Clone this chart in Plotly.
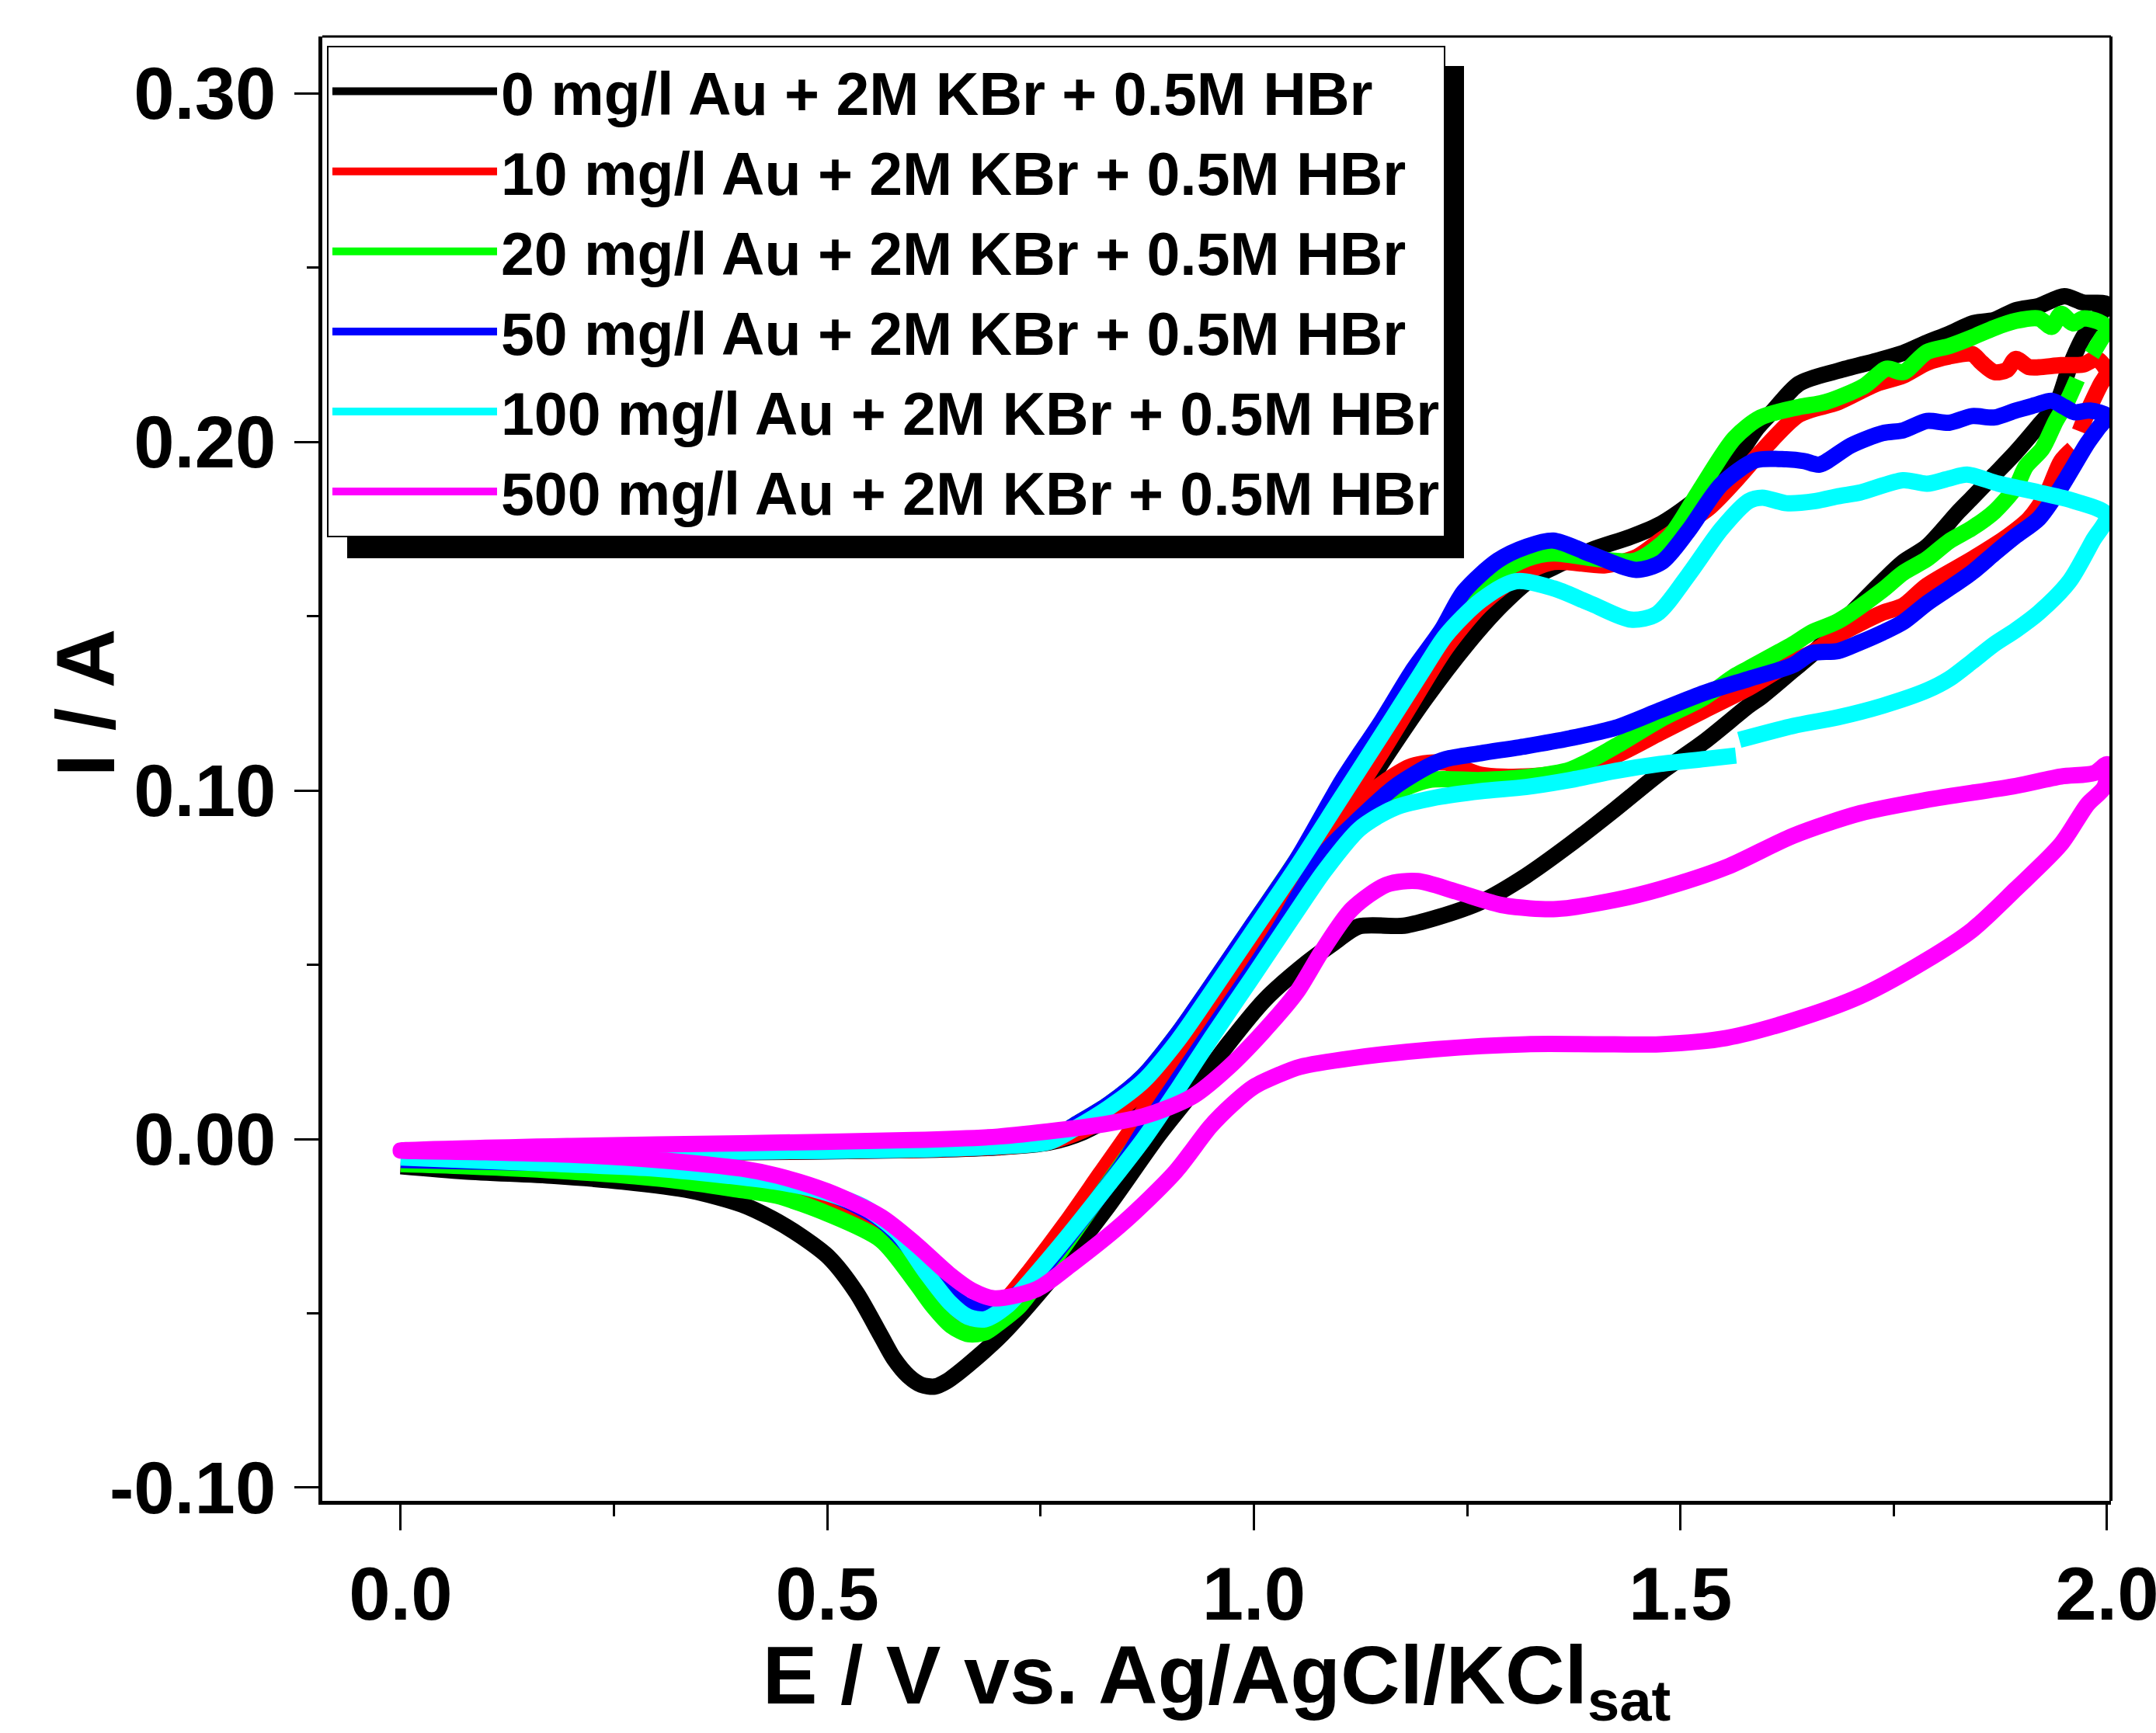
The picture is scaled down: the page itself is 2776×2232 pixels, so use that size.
import plotly.graph_objects as go

# ---------------- data ----------------
labels = [
    "0 mg/l Au + 2M KBr + 0.5M HBr",
    "10 mg/l Au + 2M KBr + 0.5M HBr",
    "20 mg/l Au + 2M KBr + 0.5M HBr",
    "50 mg/l Au + 2M KBr + 0.5M HBr",
    "100 mg/l Au + 2M KBr + 0.5M HBr",
    "500 mg/l Au + 2M KBr + 0.5M HBr",
]
colors = ["#000000", "#FF0000", "#00FF00", "#0000FF", "#00FFFF", "#FF00FF"]

x_ticks = [0.0, 0.5, 1.0, 1.5, 2.0]
y_ticks = [-0.10, 0.00, 0.10, 0.20, 0.30]

# (E / V, I / A) pairs, forward sweep then reverse sweep; (None, None) = gap in record
black_pts = [
    (0.00, -0.0045), (0.20, -0.0042), (0.40, -0.0038), (0.60, -0.0032), (0.70, -0.0024),
    (0.76, -0.0010), (0.80, 0.0020), (0.84, 0.0075), (0.88, 0.0150), (0.92, 0.0250),
    (0.96, 0.0370), (1.00, 0.0520), (1.05, 0.0700), (1.10, 0.0890), (1.15, 0.1080),
    (1.20, 0.1260), (1.25, 0.1420), (1.29, 0.1530), (1.327, 0.1610), (1.351, 0.1640),
    (1.396, 0.1690), (1.442, 0.1728), (1.478, 0.1766), (1.509, 0.1817), (1.535, 0.1870),
    (1.563, 0.1944), (1.590, 0.2040), (1.609, 0.2090), (1.639, 0.2167), (1.685, 0.2204),
    (1.730, 0.2233), (1.761, 0.2255), (1.789, 0.2285), (1.815, 0.2310), (1.842, 0.2340),
    (1.868, 0.2350), (1.893, 0.2378), (1.920, 0.2390), (1.950, 0.2418), (1.972, 0.2400),
    (2.000, 0.2395),
    (1.988, 0.2354), (1.972, 0.2300), (1.956, 0.2214), (1.941, 0.2110), (1.920, 0.2047),
    (1.893, 0.1970), (1.868, 0.1906), (1.842, 0.1840), (1.826, 0.1800), (1.789, 0.1700),
    (1.761, 0.1655), (1.737, 0.1600), (1.685, 0.1470), (1.654, 0.1390), (1.632, 0.1345),
    (1.594, 0.1267), (1.580, 0.1243), (1.528, 0.1140), (1.476, 0.1050), (1.424, 0.0947),
    (1.371, 0.0846), (1.319, 0.0755), (1.266, 0.0680), (1.214, 0.0635), (1.176, 0.0612),
    (1.123, 0.0610), (1.095, 0.0565), (1.054, 0.0490), (1.013, 0.0400), (0.969, 0.0270),
    (0.930, 0.0140), (0.888, 0.0010), (0.827, -0.0200), (0.766, -0.0390), (0.705, -0.0560),
    (0.664, -0.0650), (0.640, -0.0695), (0.626, -0.0710), (0.610, -0.0705), (0.595, -0.0680),
    (0.578, -0.0630), (0.563, -0.0565), (0.534, -0.0440), (0.502, -0.0340), (0.470, -0.0280),
    (0.435, -0.0228), (0.400, -0.0188), (0.340, -0.0148), (0.260, -0.0122), (0.180, -0.0106),
    (0.075, -0.0093), (0.000, -0.0078),
]

red_pts = [
    (0.00, -0.0042), (0.20, -0.0040), (0.40, -0.0037), (0.60, -0.0031), (0.70, -0.0023),
    (0.76, -0.0008), (0.80, 0.0025), (0.84, 0.0080), (0.88, 0.0160), (0.92, 0.0270),
    (0.96, 0.0400), (1.00, 0.0550), (1.05, 0.0730), (1.10, 0.0920), (1.15, 0.1110),
    (1.185, 0.1250), (1.225, 0.1408), (1.266, 0.1530), (1.307, 0.1610), (1.351, 0.1655),
    (1.412, 0.1646), (1.449, 0.1670), (1.478, 0.1720), (1.533, 0.1810), (1.565, 0.1890),
    (1.594, 0.1970), (1.639, 0.2078), (1.685, 0.2114), (1.730, 0.2167), (1.761, 0.2190),
    (1.789, 0.2227), (1.815, 0.2245), (1.842, 0.2252), (1.853, 0.2227), (1.868, 0.2200),
    (1.883, 0.2207), (1.893, 0.2238), (1.908, 0.2215), (1.920, 0.2214), (1.946, 0.2220),
    (1.972, 0.2222), (1.988, 0.2238), (2.000, 0.2200),
    (1.992, 0.2163), (1.977, 0.2085), (1.968, 0.2030), (None, None), (1.960, 0.1980),
    (1.946, 0.1944), (1.930, 0.1855), (1.909, 0.1780), (1.883, 0.1728), (1.842, 0.1664),
    (1.789, 0.1588), (1.761, 0.1530), (1.737, 0.1510), (1.685, 0.1446), (1.654, 0.1395),
    (1.632, 0.1370), (1.580, 0.1294), (1.528, 0.1230), (1.476, 0.1165), (1.424, 0.1100),
    (1.371, 0.1056), (1.319, 0.1040), (1.266, 0.1045), (1.225, 0.1080), (1.185, 0.1070),
    (1.145, 0.1010), (1.112, 0.0940), (1.080, 0.0840), (1.050, 0.0730), (1.000, 0.0550),
    (0.950, 0.0370), (0.900, 0.0190), (0.860, 0.0040), (0.820, -0.0100), (0.780, -0.0240),
    (0.740, -0.0370), (0.710, -0.0460), (0.685, -0.0510), (0.665, -0.0520), (0.645, -0.0500),
    (0.625, -0.0440), (0.603, -0.0370), (0.563, -0.0260), (0.520, -0.0200), (0.500, -0.0185),
    (0.441, -0.0150), (0.400, -0.0130), (0.300, -0.0100), (0.150, -0.0080), (0.000, -0.0068),
]

green_pts = [
    (0.00, -0.0040), (0.20, -0.0038), (0.40, -0.0036), (0.60, -0.0030), (0.70, -0.0021),
    (0.76, -0.0004), (0.79, 0.0040), (0.83, 0.0100), (0.87, 0.0180), (0.91, 0.0300),
    (0.95, 0.0440), (1.00, 0.0620), (1.05, 0.0800), (1.10, 0.0990), (1.15, 0.1180),
    (1.20, 0.1360), (1.246, 0.1530), (1.286, 0.1620), (1.320, 0.1665), (1.351, 0.1680),
    (1.400, 0.1665), (1.448, 0.1660), (1.487, 0.1728), (1.521, 0.1855), (1.563, 0.2010),
    (1.594, 0.2070), (1.639, 0.2100), (1.670, 0.2114), (1.715, 0.2160), (1.742, 0.2210),
    (1.761, 0.2200), (1.789, 0.2258), (1.815, 0.2275), (1.842, 0.2300), (1.868, 0.2327),
    (1.893, 0.2347), (1.920, 0.2354), (1.935, 0.2330), (1.946, 0.2367), (1.960, 0.2340),
    (1.972, 0.2354), (1.990, 0.2345), (2.000, 0.2327),
    (1.992, 0.2290), (1.982, 0.2250), (None, None), (1.965, 0.2180), (1.952, 0.2110),
    (1.940, 0.2060), (1.924, 0.1980), (1.905, 0.1930), (1.893, 0.1870), (1.868, 0.1800),
    (1.842, 0.1753), (1.815, 0.1715), (1.789, 0.1664), (1.761, 0.1624), (1.737, 0.1575),
    (1.685, 0.1486), (1.654, 0.1454), (1.632, 0.1420), (1.580, 0.1350), (1.563, 0.1327),
    (1.528, 0.1267), (1.476, 0.1203), (1.424, 0.1127), (1.371, 0.1060), (1.319, 0.1038),
    (1.266, 0.1030), (1.205, 0.1030), (1.165, 0.0990), (1.124, 0.0900), (1.083, 0.0780),
    (1.050, 0.0660), (1.000, 0.0480), (0.950, 0.0300), (0.900, 0.0120), (0.860, -0.0020),
    (0.820, -0.0160), (0.780, -0.0300), (0.750, -0.0400), (0.725, -0.0480), (0.700, -0.0530),
    (0.685, -0.0555), (0.666, -0.0560), (0.645, -0.0535), (0.624, -0.0480), (0.603, -0.0410),
    (0.563, -0.0290), (0.500, -0.0214), (0.441, -0.0163), (0.400, -0.0147), (0.319, -0.0118),
    (0.197, -0.0093), (0.075, -0.0078), (0.000, -0.0072),
]

blue_pts = [
    (0.00, -0.0040), (0.20, -0.0038), (0.40, -0.0036), (0.60, -0.0030), (0.70, -0.0021),
    (0.76, -0.0004), (0.79, 0.0040), (0.83, 0.0100), (0.87, 0.0180), (0.91, 0.0300),
    (0.95, 0.0440), (1.00, 0.0620), (1.05, 0.0800), (1.104, 0.1030), (1.15, 0.1200),
    (1.185, 0.1340), (1.220, 0.1460), (1.246, 0.1570), (1.286, 0.1660), (1.320, 0.1700),
    (1.351, 0.1717), (1.396, 0.1677), (1.448, 0.1633), (1.478, 0.1655), (1.509, 0.1744),
    (1.548, 0.1878), (1.588, 0.1947), (1.624, 0.1950), (1.645, 0.1945), (1.663, 0.1935),
    (1.700, 0.1990), (1.737, 0.2025), (1.761, 0.2033), (1.789, 0.2060), (1.815, 0.2055),
    (1.842, 0.2074), (1.868, 0.2070), (1.893, 0.2090), (1.915, 0.2105), (1.935, 0.2118),
    (1.950, 0.2100), (1.962, 0.2085), (1.980, 0.2090), (2.000, 0.2074),
    (1.990, 0.2040), (1.977, 0.1996), (1.946, 0.1870), (1.920, 0.1780), (1.893, 0.1730),
    (1.868, 0.1680), (1.842, 0.1626), (1.815, 0.1580), (1.789, 0.1537), (1.761, 0.1483),
    (1.737, 0.1453), (1.711, 0.1425), (1.685, 0.1400), (1.654, 0.1394), (1.632, 0.1360),
    (1.580, 0.1320), (1.528, 0.1280), (1.476, 0.1230), (1.424, 0.1180), (1.371, 0.1150),
    (1.319, 0.1127), (1.266, 0.1107), (1.225, 0.1090), (1.205, 0.1070), (1.165, 0.1010),
    (1.124, 0.0920), (1.083, 0.0820), (1.055, 0.0710), (1.034, 0.0620), (1.000, 0.0490),
    (0.950, 0.0310), (0.900, 0.0130), (0.870, 0.0020), (0.847, -0.0070), (0.786, -0.0270),
    (0.750, -0.0380), (0.725, -0.0440), (0.700, -0.0480), (0.680, -0.0490), (0.660, -0.0475),
    (0.644, -0.0440), (0.620, -0.0380), (0.603, -0.0330), (0.562, -0.0230), (0.501, -0.0155),
    (0.440, -0.0120), (0.400, -0.0105), (0.300, -0.0080), (0.150, -0.0068), (0.000, -0.0060),
]

cyan_pts = [
    (0.00, -0.0040), (0.20, -0.0038), (0.40, -0.0036), (0.60, -0.0030), (0.70, -0.0021),
    (0.76, -0.0008), (0.79, 0.0030), (0.83, 0.0090), (0.87, 0.0165), (0.91, 0.0280),
    (0.95, 0.0420), (1.00, 0.0600), (1.05, 0.0780), (1.10, 0.0970), (1.15, 0.1160),
    (1.196, 0.1336), (1.225, 0.1445), (1.266, 0.1545), (1.307, 0.1600), (1.351, 0.1580),
    (1.396, 0.1535), (1.442, 0.1490), (1.472, 0.1506), (1.509, 0.1617), (1.548, 0.1750),
    (1.580, 0.1830), (1.596, 0.1840), (1.624, 0.1824), (1.658, 0.1830), (1.685, 0.1844),
    (1.711, 0.1855), (1.761, 0.1890), (1.789, 0.1880), (1.815, 0.1895), (1.836, 0.1906),
    (1.873, 0.1880), (1.920, 0.1855), (1.962, 0.1830), (2.000, 0.1790),
    (1.983, 0.1715), (1.956, 0.1600), (1.920, 0.1510), (1.893, 0.1460), (1.868, 0.1420),
    (1.842, 0.1370), (1.815, 0.1320), (1.789, 0.1287), (1.737, 0.1243), (1.685, 0.1210),
    (1.632, 0.1185), (1.569, 0.1145), (None, None), (1.565, 0.1100), (1.528, 0.1090),
    (1.476, 0.1076), (1.424, 0.1056), (1.371, 0.1030), (1.319, 0.1010), (1.266, 0.0998),
    (1.214, 0.0980), (1.165, 0.0950), (1.124, 0.0890), (1.083, 0.0770), (1.063, 0.0700),
    (1.000, 0.0470), (0.950, 0.0290), (0.910, 0.0140), (0.871, 0.0000), (0.830, -0.0130),
    (0.778, -0.0290), (0.740, -0.0400), (0.710, -0.0480), (0.685, -0.0517), (0.665, -0.0510),
    (0.644, -0.0470), (0.615, -0.0380), (0.583, -0.0270), (0.542, -0.0194), (0.482, -0.0143),
    (0.441, -0.0123), (0.400, -0.0110), (0.300, -0.0085), (0.150, -0.0068), (0.000, -0.0053),
]

magenta_pts = [
    (0.00, -0.0033), (0.20, -0.0020), (0.40, -0.0012), (0.60, -0.0003), (0.70, 0.0007),
    (0.77, 0.0025), (0.83, 0.0045), (0.87, 0.0065), (0.90, 0.0090), (0.93, 0.0125),
    (0.97, 0.0205), (1.01, 0.0305), (1.05, 0.0420), (1.08, 0.0540), (1.115, 0.0660),
    (1.156, 0.0730), (1.192, 0.0740), (1.237, 0.0710), (1.293, 0.0670), (1.355, 0.0660),
    (1.424, 0.0686), (1.476, 0.0717), (1.554, 0.0780), (1.632, 0.0870), (1.711, 0.0935),
    (1.789, 0.0973), (1.893, 0.1013), (1.946, 0.1040), (1.985, 0.1050), (2.000, 0.1075),
    (1.997, 0.1010), (1.977, 0.0960), (1.946, 0.0846), (1.893, 0.0717), (1.842, 0.0600),
    (1.789, 0.0514), (1.711, 0.0410), (1.632, 0.0340), (1.554, 0.0290), (1.476, 0.0272),
    (1.400, 0.0272), (1.319, 0.0272), (1.214, 0.0258), (1.115, 0.0232), (1.054, 0.0207),
    (1.030, 0.0185), (1.000, 0.0150), (0.975, 0.0100), (0.949, 0.0036), (0.908, -0.0094),
    (0.847, -0.0240), (0.786, -0.0360), (0.746, -0.0430), (0.696, -0.0457), (0.670, -0.0435),
    (0.644, -0.0390), (0.603, -0.0300), (0.563, -0.0223), (0.500, -0.0150), (0.441, -0.0105),
    (0.400, -0.0085), (0.300, -0.0060), (0.200, -0.0045), (0.100, -0.0038), (0.000, -0.0033),
]

series_pts = [black_pts, red_pts, green_pts, blue_pts, cyan_pts, magenta_pts]

# ---------------- figure ----------------
FONT = "Liberation Sans, Arial, sans-serif"
W, H = 2776, 2232
L, R, T, B = 415, 58, 47, 299

fig = go.Figure()
for pts, name, col in zip(series_pts, labels, colors):
    E = [p[0] for p in pts]
    I = [p[1] for p in pts]
    fig.add_trace(go.Scatter(
        x=E, y=I, mode="lines", name=name,
        line=dict(color=col, width=21, shape="spline", smoothing=0.8),
        connectgaps=False,
    ))

axis_font = dict(family=FONT, color="black", weight="bold")

fig.update_layout(
    width=W, height=H,
    margin=dict(l=L, r=R, t=T, b=B, autoexpand=False),
    paper_bgcolor="white", plot_bgcolor="white",
    showlegend=True,
    legend=dict(
        x=0.0026, y=0.9936, xanchor="left", yanchor="top",
        bgcolor="white", bordercolor="black", borderwidth=2,
        font=dict(family=FONT, size=77, color="black", weight="bold"),
        itemwidth=212, tracegroupgap=0,
    ),
    xaxis=dict(
        range=[-0.0919, 2.0046], showgrid=False, zeroline=False,
        showline=True, linecolor="black", linewidth=5, mirror=False,
        tickmode="array", tickvals=x_ticks, ticktext=[f"{v:.1f}" for v in x_ticks],
        ticks="outside", ticklen=33, tickwidth=3, tickcolor="black",
        minor=dict(dtick=0.25, tick0=0, ticks="outside", ticklen=15, tickwidth=3, tickcolor="black"),
        tickfont=dict(size=96, **axis_font),
        ticklabeloverflow="allow",
        title=dict(text="E / V vs. Ag/AgCl/KCl<sub>sat</sub>",
                   font=dict(size=106, **axis_font), standoff=2),
        automargin=False,
    ),
    yaxis=dict(
        range=[-0.1038, 0.3163], showgrid=False, zeroline=False,
        showline=True, linecolor="black", linewidth=5, mirror=False,
        tickmode="array", tickvals=y_ticks, ticktext=[f"{v:.2f}" for v in y_ticks],
        ticks="outside", ticklen=31, tickwidth=3, tickcolor="black",
        minor=dict(dtick=0.05, tick0=0, ticks="outside", ticklen=15, tickwidth=3, tickcolor="black"),
        tickfont=dict(size=94, **axis_font),
        ticklabelstandoff=5,
        ticklabeloverflow="allow",
        automargin=False,
    ),
    annotations=[dict(
        text="I / A", xref="paper", yref="paper", x=-0.1324, y=0.545,
        xanchor="center", yanchor="middle", textangle=-90, showarrow=False,
        font=dict(size=106, **axis_font),
    )],
    shapes=[
        # top and right frame lines
        dict(type="line", xref="paper", yref="paper", x0=0, x1=1, y0=1, y1=1,
             line=dict(color="black", width=3)),
        dict(type="line", xref="paper", yref="paper", x0=1, x1=1, y0=0, y1=1,
             line=dict(color="black", width=4)),
        # legend drop shadow
        dict(type="rect", xref="paper", yref="paper", x0=0.0139, x1=0.6383,
             y0=0.6437, y1=0.9799, fillcolor="black", line=dict(width=0), layer="above"),
    ],
)

fig.write_html("out.html")
